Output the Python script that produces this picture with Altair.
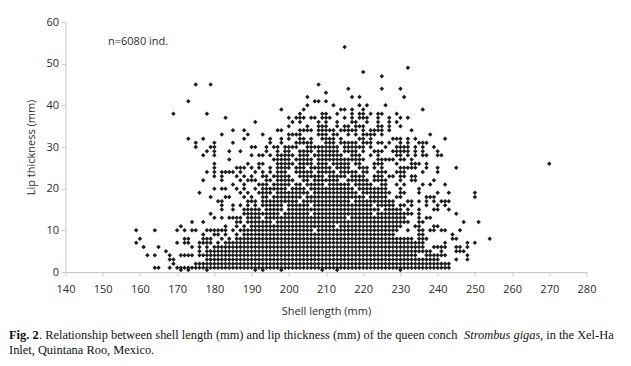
import altair as alt
import pandas as pd

# Points: lip thickness -> shell lengths ("a-b" = every mm in that run)
rows = {
54: "215", 49: "232", 48: "220", 47: "225", 45: "175 179 208", 44: "216 225 230", 43: "210",
42: "205 217 219 231", 41: "173 207 208 210", 40: "205 212 219 221 226",
39: "198 204 214 215 217 220 236",
38: "169 178 203 209 210 213 217 219 220 222 224 225 229",
37: "183 200 202 203 204 206 207 209 210 211 215 217 219 220 221 224 227 230 232",
36: "191 201 203 208 210 213 217 218 221 224 227 229",
35: "200 205 208 209 210 213 215 216 218 219 220 224 225 227 230",
34: "185 188 197 198 203-206 208-212 214-218 220 222-225 227 233",
33: "182 189 193 200-203 208-210 212 213 216 218 220-223 225 238",
32: "173 177 188 195 198 200 203 204 206 209-212 214 219 220 222 228 229 230 232 234 242",
31: "175 180 185 195 198 202-206 210-212 214-218 220-222 224 225 227 230 232 235 236 237",
30: "175 179 180 190 191 194 196 197 199-202 205-213 215-220 222 226 229-232 234 236 239",
29: "178 180 184 187 194 197 199 200 203-206 208-213 215-218 220 223-225 228-232 234 236 240",
28: "177 180 190 192 193 195 197-201 203-205 207-214 217-219 222 224 229 230 232 234 236 237 240 241",
27: "184 196-200 202-206 208-220 224-228 230 231 233",
26: "180 189 192 193 197-201 203-206 208-210 212-216 218 219 223-225 229 233-235 237 270",
25: "180 186 187 188 190 192 195 197-200 202-204 206-211 213-216 219-221 223 225 230-234 237 240 245",
24: "178 180 182-185 187 191 193 195 197-199 202-206 208-212 214-218 220 221 224-226 229-231 236 240",
23: "180 182 186 188 190 193 194 196-200 203-209 211-215 217-220 223-225 227 228 230 231 233 234",
22: "177 182 187 189 190 191 194 195 197-201 204 205 207-213 216-221 223-226 230 233 234 239",
21: "185 188 192-194 196-200 202 203 205-209 211-216 218-222 225 226 229 231 236 238 242",
20: "180 182 183 186 188 191 193-199 201-204 206-217 219-226 230 235",
19: "176 187 189 192-195 197-205 207-218 220-227 230 231 235 240 243 250",
18: "179 183 184 188 190 193 194 196-203 205-220 222-226 229 230 237 238 239 250",
17: "181 182 189 190 191 193-202 204-216 218-228 232 233 235 237 239 241 242 243",
16: "182 185 187 189 191 193-198 200-205 207-222 224-228 230 231 233 237 240 242",
15: "182 185 188-192 194-198 200-224 226-230 232 235 239 240 243",
14: "179 188-197 199-205 207-222 224-233 235 245",
13: "180 182 184-187 189-192 194-215 217-231 235 237 238",
12: "174 177 186 187 189-195 197-232 235 236 247 251",
11: "171 183 186 188 190-212 214-230 234 235 239 240",
10: "159 164 170 172 174 175 178-183 185 187-206 208-229 232 235 236 238 239 241 242 246",
9: "177 180 181 183 186 188-228 235 236 244",
8: "160 172 173 177-179 182 184 186-233 235-237 244 245 254",
7: "159 170 172 173 176-179 181 183-236 242 248 250",
6: "161 165 174 176 178 180-236 239-242 245 246 248",
5: "167 176 178-238 241 245-247",
4: "162 164 168 171-174 176-234 237-242 248",
3: "168 169 178-240 245 248",
2: "169 175-243",
1: "164 165 168 170-243",
0.5: "171 173 178 191 193 198 209 213 230",
}

x_ticks = [140, 150, 160, 170, 180, 190, 200, 210, 220, 230, 240, 250, 260, 270, 280]
y_ticks = [0, 10, 20, 30, 40, 50, 60]
caption_bold = "Fig. 2"
caption_a = ". Relationship between shell length (mm) and lip thickness (mm) of the queen conch"
caption_i = "Strombus gigas"
caption_b = ", in the Xel-Ha"
caption_2 = "Inlet, Quintana Roo, Mexico."

pts = []
for y, spec in rows.items():
    for tok in spec.split():
        if "-" in tok:
            a, b = tok.split("-")
            pts += [{"x": v, "y": y} for v in range(int(a), int(b) + 1)]
        else:
            pts.append({"x": int(tok), "y": y})
df = pd.DataFrame(pts)

W, H = 521, 250
FONT = "Open Sans"
GREY = "#c9c9c9"
INK = "#2b2b2b"

points = alt.Chart(df).mark_point(shape="diamond", filled=True, size=20, color="#1c1c1c", opacity=1).encode(
    x=alt.X("x:Q", scale=alt.Scale(domain=[140, 280], nice=False, zero=False),
            axis=alt.Axis(values=x_ticks, title="Shell length (mm)", grid=False, domainColor=GREY,
                          tickColor=GREY, tickSize=4, labelFont=FONT, titleFont=FONT, labelFontSize=11,
                          titleFontSize=11, titleFontWeight="normal", labelColor=INK, titleColor=INK,
                          labelPadding=7, titlePadding=11, labelFlush=False)),
    y=alt.Y("y:Q", scale=alt.Scale(domain=[0, 60], nice=False),
            axis=alt.Axis(values=y_ticks, title="Lip thickness (mm)", grid=False, domainColor=GREY,
                          tickColor=GREY, tickSize=4, labelFont=FONT, titleFont=FONT, labelFontSize=11,
                          titleFontSize=11, titleFontWeight="normal", labelColor=INK, titleColor=INK,
                          labelPadding=3, titlePadding=9)),
)

def note(text, px, py, font=FONT, size=11, weight="normal", style="normal", color=INK):
    return alt.Chart(pd.DataFrame({"t": [text]})).mark_text(
        align="left", baseline="middle", font=font, fontSize=size, fontWeight=weight,
        fontStyle=style, color=color, clip=False,
    ).encode(x=alt.value(px), y=alt.value(py), text="t:N")

SERIF = "Liberation Serif"
CAP = 12.4
X0, Y0 = 57.5, 14
chart = alt.layer(
    points,
    note("n=6080 ind.", 108 - 8 - X0, 42 - 8 - Y0),
    note(caption_bold, 9 - 8 - X0, 335 - 8 - Y0, SERIF, CAP, "bold", color="#111111"),
    note(caption_a, 39 - 8 - X0, 335 - 8 - Y0, SERIF, CAP, color="#111111"),
    note(caption_i, 464 - 8 - X0, 335 - 8 - Y0, SERIF, CAP, style="italic", color="#111111"),
    note(caption_b, 540 - 8 - X0, 335 - 8 - Y0, SERIF, CAP, color="#111111"),
    note(caption_2, 9 - 8 - X0, 350 - 8 - Y0, SERIF, CAP, color="#111111"),
).properties(
    width=W, height=H,
    autosize=alt.AutoSizeParams(type="none"),
    padding={"left": X0, "top": Y0, "right": 34, "bottom": 85},
).configure_view(stroke=None)

chart.save("out.html", embed_options={"renderer": "svg", "actions": False})
